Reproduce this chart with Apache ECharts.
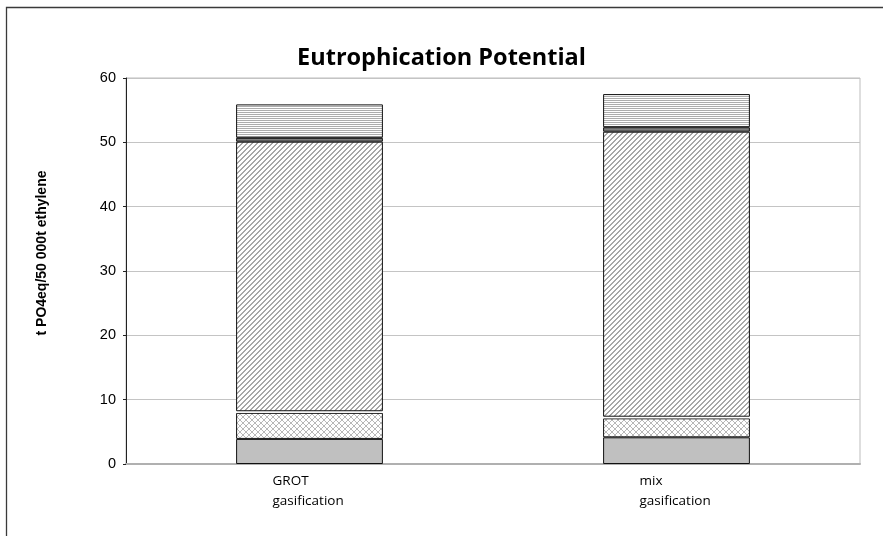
<!DOCTYPE html>
<html>
<head>
<meta charset="utf-8">
<script src="https://cdn.jsdelivr.net/npm/echarts@6/dist/echarts.min.js"></script>
<style>
  html, body { margin: 0; padding: 0; background: #fff; }
  #chart { width: 883px; height: 536px; }
</style>
</head>
<body>
<div id="chart"></div>
<script>
// Categories and stacked component values (t PO4eq per 50 000 t ethylene), bottom to top
const categories = ['GROT\ngasification', 'mix\ngasification'];
const solidGrey   = [3.9, 4.15];
const crossHatch  = [4.05, 2.95];
const thinWhite   = [0.25, 0.25];
const diagonal    = [41.9, 44.3];
const darkBand    = [0.6, 0.7];
const horizontal  = [5.2, 5.15];
const yTicks = { min: 0, max: 60, interval: 10 };

// Small pixel tiles used as bar fills
function tile(size, color, draw) {
  const c = document.createElement('canvas');
  c.width = size; c.height = size;
  const g = c.getContext('2d');
  g.fillStyle = '#ffffff';
  g.fillRect(0, 0, size, size);
  g.fillStyle = color;
  draw((x, y) => g.fillRect(((x % size) + size) % size, ((y % size) + size) % size, 1, 1));
  return { image: c, repeat: 'repeat' };
}

const diagFill = tile(5, '#a8a8a8', px => {
  for (let r = 0; r < 5; r++) { px(4 - r, r); px(5 - r, r); }
});
const crossFill = tile(6, '#b8b8b8', px => {
  for (let i = 0; i < 6; i++) { px(i, i); px(5 - i, i); }
});
const horizFill = tile(4, '#adadad', px => {
  for (let x = 0; x < 4; x++) { px(x, 0); px(x, 2); }
});

function layer(name, data, color, borderWidth) {
  return {
    name, type: 'bar', stack: 'total', data,
    barWidth: '40%',
    itemStyle: { color, borderColor: '#111', borderWidth: borderWidth === undefined ? 1 : borderWidth },
    emphasis: { disabled: true }
  };
}

const chart = echarts.init(document.getElementById('chart'), null, { renderer: 'canvas' });
chart.setOption({
  animation: false,
  backgroundColor: '#ffffff',
  title: {
    text: 'Eutrophication Potential',
    left: 'center', top: 41,
    textStyle: { fontFamily: 'Open Sans', fontWeight: 'bold', fontSize: 23.5, color: '#000' }
  },
  grid: {
    left: 126, right: 23, top: 78, bottom: 72,
    show: true, borderColor: '#bdbdbd', borderWidth: 1
  },
  xAxis: {
    type: 'category', data: categories,
    axisLine: { lineStyle: { color: '#b0b0b0', width: 2 } },
    axisTick: { show: false },
    axisLabel: {
      margin: 7,
      formatter: v => v.split('\n').map(s => '{a|' + s + '}').join('\n'),
      rich: { a: { width: 74, align: 'left', fontFamily: 'Open Sans', fontSize: 13.5, lineHeight: 20, color: '#000' } }
    }
  },
  yAxis: {
    type: 'value', min: yTicks.min, max: yTicks.max, interval: yTicks.interval,
    axisLine: { show: true, lineStyle: { color: '#222', width: 1 } },
    axisTick: { show: true, length: 3, lineStyle: { color: '#222' } },
    axisLabel: { margin: 10, fontFamily: 'Liberation Sans', fontSize: 14.5, color: '#000' },
    splitLine: { lineStyle: { color: '#c4c4c4', width: 1 } }
  },
  graphic: [
    {
      type: 'rect', silent: true,
      shape: { x: 6.5, y: 7.5, width: 1000, height: 1000 },
      style: { fill: 'none', stroke: '#3a3a3a', lineWidth: 1.3 }
    },
    {
      type: 'text', silent: true,
      x: 42, y: 253, rotation: Math.PI / 2,
      style: {
        text: 't PO4eq/50 000t ethylene',
        fontFamily: 'Liberation Sans', fontWeight: 'bold', fontSize: 14,
        fill: '#000', align: 'center', verticalAlign: 'middle'
      }
    }
  ],
  series: [
    layer('Grey', solidGrey, '#c0c0c0'),
    layer('Cross-hatch', crossHatch, crossFill),
    layer('White', thinWhite, '#ffffff', 0),
    layer('Diagonal', diagonal, diagFill),
    layer('Dark', darkBand, '#7e7e7e'),
    layer('Horizontal', horizontal, horizFill)
  ]
});
</script>
</body>
</html>
